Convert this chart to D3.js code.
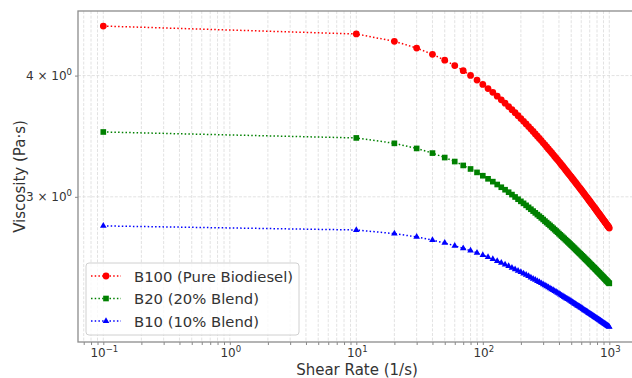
<!DOCTYPE html>
<html>
<head>
<meta charset="utf-8">
<script src="https://cdn.jsdelivr.net/npm/d3@7"></script>
<style>
  body { margin: 0; background: #fff; }
  svg { display: block; font-family: "DejaVu Sans", sans-serif; }
</style>
</head>
<body>
<svg id="chart"></svg>
<script>
// shear rate (1/s) at every measured point
const shearRate = [0.1, 10, 20, 30, 40, 50, 60, 70, 80, 90, 100,
  110, 120, 130, 140, 150, 160, 170, 180, 190, 200,
  210, 220, 230, 240, 250, 260, 270, 280, 290, 300,
  310, 320, 330, 340, 350, 360, 370, 380, 390, 400,
  410, 420, 430, 440, 450, 460, 470, 480, 490, 500,
  510, 520, 530, 540, 550, 560, 570, 580, 590, 600,
  610, 620, 630, 640, 650, 660, 670, 680, 690, 700,
  710, 720, 730, 740, 750, 760, 770, 780, 790, 800,
  810, 820, 830, 840, 850, 860, 870, 880, 890, 900,
  910, 920, 930, 940, 950, 960, 970, 980, 990, 1000];

// viscosity (Pa·s)
const b100 = [4.499, 4.415, 4.339, 4.270, 4.207, 4.149, 4.096, 4.047, 4.001, 3.958, 3.917,
  3.879, 3.844, 3.809, 3.777, 3.746, 3.717, 3.689, 3.663, 3.637, 3.612,
  3.589, 3.566, 3.544, 3.523, 3.503, 3.483, 3.464, 3.446, 3.428, 3.410,
  3.394, 3.377, 3.361, 3.346, 3.331, 3.316, 3.302, 3.288, 3.275, 3.262,
  3.249, 3.236, 3.224, 3.212, 3.200, 3.188, 3.177, 3.166, 3.155, 3.145,
  3.134, 3.124, 3.114, 3.104, 3.095, 3.085, 3.076, 3.067, 3.058, 3.049,
  3.041, 3.032, 3.024, 3.016, 3.007, 3.000, 2.992, 2.984, 2.976, 2.969,
  2.962, 2.954, 2.947, 2.940, 2.933, 2.926, 2.920, 2.913, 2.906, 2.900,
  2.893, 2.887, 2.881, 2.875, 2.869, 2.863, 2.857, 2.851, 2.845, 2.839,
  2.834, 2.828, 2.823, 2.817, 2.812, 2.806, 2.801, 2.796, 2.791, 2.786];

const b20 = [3.499, 3.450, 3.406, 3.365, 3.328, 3.293, 3.262, 3.232, 3.205, 3.179, 3.154,
  3.131, 3.110, 3.089, 3.069, 3.051, 3.033, 3.016, 2.999, 2.983, 2.968,
  2.954, 2.940, 2.926, 2.913, 2.900, 2.888, 2.876, 2.865, 2.854, 2.843,
  2.832, 2.822, 2.812, 2.803, 2.793, 2.784, 2.775, 2.766, 2.758, 2.749,
  2.741, 2.733, 2.725, 2.718, 2.710, 2.703, 2.696, 2.689, 2.682, 2.675,
  2.669, 2.662, 2.656, 2.649, 2.643, 2.637, 2.631, 2.625, 2.620, 2.614,
  2.608, 2.603, 2.598, 2.592, 2.587, 2.582, 2.577, 2.572, 2.567, 2.562,
  2.557, 2.553, 2.548, 2.543, 2.539, 2.535, 2.530, 2.526, 2.522, 2.517,
  2.513, 2.509, 2.505, 2.501, 2.497, 2.493, 2.489, 2.485, 2.482, 2.478,
  2.474, 2.470, 2.467, 2.463, 2.460, 2.456, 2.453, 2.449, 2.446, 2.443];

const b10 = [2.800, 2.773, 2.749, 2.728, 2.707, 2.689, 2.671, 2.655, 2.640, 2.626, 2.612,
  2.600, 2.588, 2.576, 2.565, 2.555, 2.545, 2.535, 2.526, 2.517, 2.509,
  2.500, 2.493, 2.485, 2.477, 2.470, 2.463, 2.457, 2.450, 2.444, 2.438,
  2.432, 2.426, 2.420, 2.414, 2.409, 2.404, 2.399, 2.394, 2.389, 2.384,
  2.379, 2.374, 2.370, 2.365, 2.361, 2.357, 2.353, 2.349, 2.345, 2.341,
  2.337, 2.333, 2.329, 2.326, 2.322, 2.318, 2.315, 2.312, 2.308, 2.305,
  2.302, 2.298, 2.295, 2.292, 2.289, 2.286, 2.283, 2.280, 2.277, 2.274,
  2.271, 2.269, 2.266, 2.263, 2.261, 2.258, 2.255, 2.253, 2.250, 2.248,
  2.245, 2.243, 2.240, 2.238, 2.236, 2.233, 2.231, 2.229, 2.226, 2.224,
  2.222, 2.220, 2.218, 2.215, 2.213, 2.211, 2.209, 2.207, 2.205, 2.203];

const seriesNames = ['B100 (Pure Biodiesel)', 'B20 (20% Blend)', 'B10 (10% Blend)'];
const xTickExponents = [-1, 0, 1, 2, 3];
const yTickValues = [3, 4];

const width = 632, height = 378;
const plotLeft = 78, plotTop = 11, plotBottom = 342;
const decadePx = 126.5;

const series = [
  { name: seriesNames[0], values: b100, color: '#ff0000', symbol: d3.symbolCircle, size: 36 },
  { name: seriesNames[1], values: b20, color: '#008000', symbol: d3.symbolSquare, size: 32 },
  { name: seriesNames[2], values: b10, color: '#0000ff', symbol: d3.symbolTriangle, size: 19 }
];

// log domains padded by 5% like the original
const xLo = Math.log10(d3.min(shearRate)), xHi = Math.log10(d3.max(shearRate));
const xPad = (xHi - xLo) * 0.05;
const xDomain = [10 ** (xLo - xPad), 10 ** (xHi + xPad)];
const plotRight = plotLeft + (xHi - xLo + 2 * xPad) * decadePx;

const allY = b100.concat(b20, b10);
const yLo = Math.log10(d3.min(allY)), yHi = Math.log10(d3.max(allY));
const yPad = (yHi - yLo) * 0.05;
const yDomain = [10 ** (yLo - yPad), 10 ** (yHi + yPad)];

const xScale = d3.scaleLog().domain(xDomain).range([plotLeft, plotRight]);
const yScale = d3.scaleLog().domain(yDomain).range([plotBottom, plotTop]);

const svg = d3.select('#chart')
  .attr('width', width)
  .attr('height', height)
  .attr('viewBox', [0, 0, width, height]);

// grid (major + minor on x, 3 and 4 on y)
const xGridTicks = xScale.ticks();
svg.append('g')
  .attr('stroke', '#dadada')
  .attr('stroke-width', 0.8)
  .attr('stroke-dasharray', '3,1.6')
  .selectAll('line')
  .data(xGridTicks)
  .join('line')
  .attr('x1', d => xScale(d)).attr('x2', d => xScale(d))
  .attr('y1', plotTop).attr('y2', plotBottom);

svg.append('g')
  .attr('stroke', '#dadada')
  .attr('stroke-width', 0.8)
  .attr('stroke-dasharray', '3,1.6')
  .selectAll('line')
  .data(yTickValues)
  .join('line')
  .attr('x1', plotLeft).attr('x2', plotRight)
  .attr('y1', d => yScale(d)).attr('y2', d => yScale(d));

// axes: ticks only, labels drawn by hand for the superscripts
const xAxis = d3.axisBottom(xScale)
  .tickValues(xGridTicks)
  .tickSize(3)
  .tickFormat('');
svg.append('g')
  .attr('transform', `translate(0,${plotBottom})`)
  .call(xAxis)
  .call(g => g.select('.domain').remove())
  .call(g => g.selectAll('.tick line').attr('stroke', '#888'));

const yAxis = d3.axisLeft(yScale)
  .tickValues(yTickValues)
  .tickSize(3)
  .tickFormat('');
svg.append('g')
  .attr('transform', `translate(${plotLeft},0)`)
  .call(yAxis)
  .call(g => g.select('.domain').remove())
  .call(g => g.selectAll('.tick line').attr('stroke', '#888'));

const xLabels = svg.append('g')
  .attr('fill', '#333')
  .attr('font-size', 12)
  .attr('text-anchor', 'middle')
  .selectAll('text')
  .data(xTickExponents)
  .join('text')
  .attr('x', d => xScale(10 ** d) + 1)
  .attr('y', 357);
xLabels.append('tspan').text('10');
xLabels.append('tspan')
  .attr('dy', -5)
  .attr('font-size', 8.5)
  .text(d => (d < 0 ? '\u2212' + (-d) : d));

const yLabels = svg.append('g')
  .attr('fill', '#333')
  .attr('font-size', 12)
  .attr('text-anchor', 'end')
  .selectAll('text')
  .data(yTickValues)
  .join('text')
  .attr('x', 72)
  .attr('y', d => yScale(d) + 4.5);
yLabels.append('tspan').text(d => `${d} \u00d7 10`);
yLabels.append('tspan')
  .attr('dy', -5)
  .attr('font-size', 8.5)
  .text('0');

// spines (right one falls outside the picture)
svg.append('rect')
  .attr('x', plotLeft).attr('y', plotTop)
  .attr('width', plotRight - plotLeft)
  .attr('height', plotBottom - plotTop)
  .attr('fill', 'none')
  .attr('stroke', '#8c8c8c')
  .attr('stroke-width', 1.3);

// data
const line = d3.line()
  .x((d, i) => xScale(shearRate[i]))
  .y(d => yScale(d));

series.forEach(s => {
  svg.append('path')
    .datum(s.values)
    .attr('fill', 'none')
    .attr('stroke', s.color)
    .attr('stroke-width', 1.5)
    .attr('stroke-dasharray', '1.5,2.2')
    .attr('d', line);

  svg.append('g')
    .attr('fill', s.color)
    .selectAll('path')
    .data(s.values)
    .join('path')
    .attr('transform', (d, i) => `translate(${xScale(shearRate[i])},${yScale(d)})`)
    .attr('d', d3.symbol(s.symbol, s.size));
});

// legend
const legend = svg.append('g');
legend.append('rect')
  .attr('x', 86).attr('y', 263)
  .attr('width', 213).attr('height', 72)
  .attr('rx', 3)
  .attr('fill', '#fff')
  .attr('fill-opacity', 0.8)
  .attr('stroke', '#d0d0d0')
  .attr('stroke-width', 1);

const rows = legend.selectAll('g.row')
  .data(series)
  .join('g')
  .attr('class', 'row')
  .attr('transform', (d, i) => `translate(0,${276 + i * 22.5})`);

rows.append('line')
  .attr('x1', 91).attr('x2', 121)
  .attr('stroke', d => d.color)
  .attr('stroke-width', 1.5)
  .attr('stroke-dasharray', '1.5,2.2');

rows.append('path')
  .attr('transform', 'translate(106,0)')
  .attr('fill', d => d.color)
  .attr('d', d => d3.symbol(d.symbol, d.size)());

rows.append('text')
  .attr('x', 134)
  .attr('y', 5.5)
  .attr('fill', '#333')
  .attr('font-size', 14.8)
  .text(d => d.name);

// axis titles
svg.append('text')
  .attr('x', 357)
  .attr('y', 375)
  .attr('text-anchor', 'middle')
  .attr('fill', '#333')
  .attr('font-size', 15)
  .text('Shear Rate (1/s)');

svg.append('text')
  .attr('transform', `translate(25,${(plotTop + plotBottom) / 2}) rotate(-90)`)
  .attr('text-anchor', 'middle')
  .attr('fill', '#333')
  .attr('font-size', 15)
  .text('Viscosity (Pa·s)');
</script>
</body>
</html>
